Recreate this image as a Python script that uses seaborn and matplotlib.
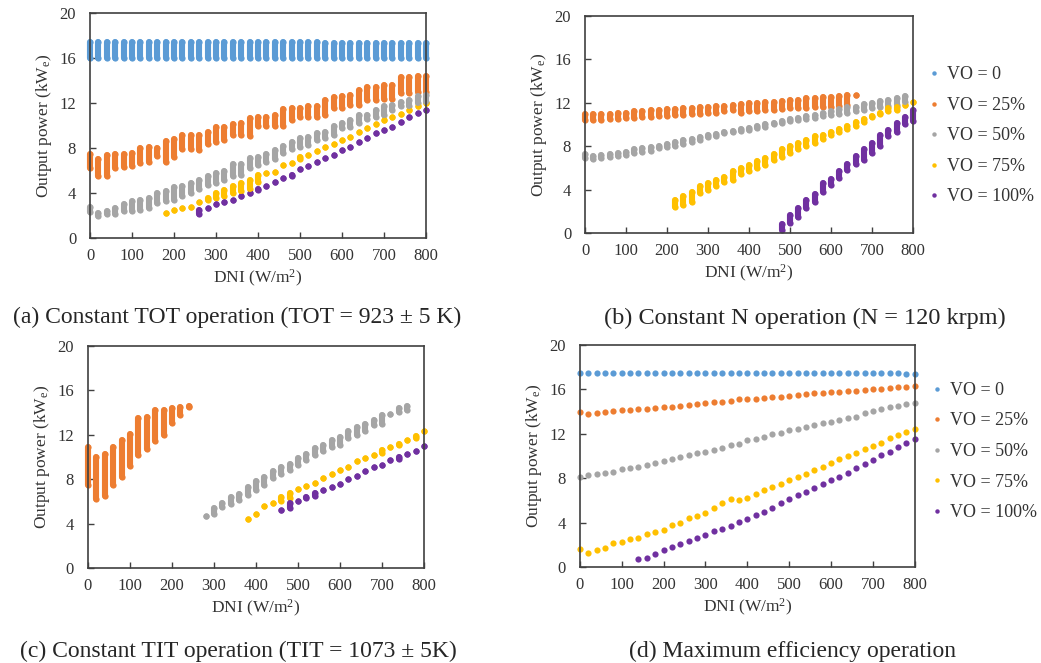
import numpy as np
import matplotlib
matplotlib.use('Agg')
import matplotlib.pyplot as plt
import seaborn as sns
from matplotlib.lines import Line2D

# DNI grid (W/m2), one column of points every 20
DNI = np.arange(0, 801, 20)

LABELS = ['VO = 0', 'VO = 25%', 'VO = 50%', 'VO = 75%', 'VO = 100%']
COLORS = ['#5B9BD5', '#ED7D31', '#A5A5A5', '#FFC000', '#7030A0']

# (a) constant TOT: min / max output power of each DNI column
a_blue_lo = [16.0, 16.0, 16.0, 16.0, 16.0, 16.0, 16.0, 16.0, 16.0, 16.0, 16.0, 16.0, 16.0, 16.0,
             16.0, 16.0, 16.0, 16.0, 16.0, 16.0, 16.0, 16.0, 16.0, 16.0, 16.0, 16.0, 16.0, 16.0,
             16.0, 16.0, 16.0, 16.0, 16.0, 16.0, 16.0, 16.0, 16.0, 16.0, 16.0, 16.0, 16.0]
a_blue_hi = [17.4, 17.4, 17.4, 17.4, 17.4, 17.4, 17.4, 17.4, 17.4, 17.4, 17.4, 17.4, 17.4, 17.4,
             17.4, 17.4, 17.4, 17.4, 17.4, 17.4, 17.4, 17.4, 17.4, 17.4, 17.4, 17.4, 17.4, 17.4,
             17.3, 17.3, 17.3, 17.3, 17.3, 17.3, 17.3, 17.3, 17.3, 17.3, 17.3, 17.3, 17.3]
a_orange_lo = [6.2, 5.5, 5.5, 6.2, 6.3, 6.4, 6.7, 6.8, 7.3, 6.8, 7.2, 7.9, 7.9, 7.8, 8.4, 8.5, 8.7,
               9.2, 9.2, 9.1, 10.0, 10.0, 10.0, 10.0, 10.5, 10.8, 10.8, 10.8, 10.9, 11.6, 11.6,
               11.8, 11.8, 12.3, 12.3, 12.4, 12.4, 12.9, 12.9, 13.0, 13.0]
a_orange_hi = [7.5, 7.0, 7.4, 7.5, 7.5, 7.6, 8.0, 8.1, 8.0, 8.6, 8.8, 9.2, 9.2, 9.2, 9.4, 9.9, 9.9,
               10.1, 10.2, 10.7, 10.8, 10.8, 10.9, 11.5, 11.6, 11.6, 11.7, 11.7, 12.3, 12.5, 12.6,
               12.7, 13.2, 13.4, 13.4, 13.6, 13.6, 14.3, 14.3, 14.4, 14.4]
a_gray_lo = [2.3, 2.0, 2.1, 2.1, 2.4, 2.4, 2.5, 2.7, 3.1, 3.3, 3.4, 3.7, 4.0, 4.4, 4.7, 4.9, 5.2,
             5.5, 5.6, 6.2, 6.5, 6.8, 7.0, 7.6, 7.9, 8.1, 8.3, 8.7, 8.9, 9.2, 9.8, 9.9, 10.2,
             10.6, 10.8, 10.9, 11.4, 11.7, 11.7, 12.0, 12.1]
a_gray_hi = [2.8, 2.2, 2.4, 2.7, 3.0, 3.3, 3.4, 3.6, 4.0, 4.2, 4.5, 4.6, 4.9, 5.2, 5.5, 5.8, 6.0,
             6.6, 6.6, 7.1, 7.2, 7.5, 7.8, 8.2, 8.5, 8.9, 9.0, 9.3, 9.4, 10.0, 10.2, 10.5, 10.9,
             10.9, 11.4, 11.7, 11.8, 12.1, 12.3, 12.6, 12.7]
a_yellow_lo = [2.2, 2.45, 2.7, 2.8, 3.2, 3.4, 3.6, 3.7, 4.0, 4.2, 4.4, 5.0, 5.8, 5.9, 6.5, 6.7,
               7.0, 7.4, 7.7, 8.1, 8.4, 8.7, 9.0, 9.4, 9.8, 10.1, 10.5, 10.8, 11.0, 11.4, 11.7, 12.0]
a_yellow_hi = [2.2, 2.45, 2.7, 2.8, 3.2, 3.6, 4.0, 4.3, 4.6, 4.9, 5.2, 5.6, 5.8, 5.9, 6.5, 6.7,
               7.2, 7.4, 7.7, 8.1, 8.4, 8.7, 9.0, 9.4, 9.8, 10.1, 10.5, 10.8, 11.0, 11.4, 11.7, 12.0]
a_purple_lo = [2.1, 2.7, 3.0, 3.2, 3.4, 3.7, 4.0, 4.3, 4.6, 5.0, 5.3, 5.5, 6.1, 6.4, 6.8, 7.1,
               7.4, 7.8, 8.1, 8.5, 8.9, 9.3, 9.6, 9.9, 10.3, 10.8, 11.1, 11.4]
a_purple_hi = [2.5, 2.7, 3.0, 3.2, 3.4, 3.7, 4.0, 4.4, 4.6, 5.0, 5.3, 5.6, 6.1, 6.4, 6.8, 7.1,
               7.4, 7.8, 8.1, 8.5, 8.9, 9.3, 9.6, 9.9, 10.3, 10.8, 11.1, 11.4]

# (b) constant N
b_orange_lo = [10.4, 10.4, 10.4, 10.5, 10.5, 10.6, 10.6, 10.7, 10.7, 10.8, 10.8, 10.9, 10.9, 11.0,
               11.0, 11.1, 11.1, 11.2, 11.3, 11.1, 11.2, 11.2, 11.3, 11.3, 11.4, 11.5, 11.5, 11.5,
               11.6, 11.6, 11.6, 11.7, 11.8, 12.7]
b_orange_hi = [11.0, 11.0, 11.0, 11.0, 11.1, 11.1, 11.2, 11.2, 11.3, 11.3, 11.4, 11.4, 11.5, 11.5,
               11.6, 11.6, 11.7, 11.7, 11.8, 11.9, 12.0, 12.0, 12.1, 12.1, 12.2, 12.3, 12.3, 12.4,
               12.4, 12.5, 12.5, 12.6, 12.7, 12.7]
b_gray_lo = [6.9, 6.8, 6.9, 7.0, 7.1, 7.2, 7.4, 7.5, 7.6, 7.8, 7.9, 8.0, 8.2, 8.4, 8.6, 8.8, 8.9,
             9.2, 9.3, 9.4, 9.5, 9.7, 9.8, 10.0, 10.1, 10.3, 10.4, 10.5, 10.6, 10.8, 10.9, 11.0,
             11.1, 11.2, 11.3, 11.5, 11.6, 11.7, 11.8, 12.1]
b_gray_hi = [7.3, 7.1, 7.2, 7.3, 7.4, 7.5, 7.7, 7.8, 7.9, 8.0, 8.2, 8.4, 8.6, 8.7, 8.8, 9.0, 9.1,
             9.3, 9.4, 9.6, 9.7, 9.9, 10.0, 10.1, 10.3, 10.5, 10.6, 10.8, 10.9, 11.1, 11.2, 11.4,
             11.6, 11.6, 11.9, 12.0, 12.2, 12.3, 12.4, 12.6]
b_yellow_lo = [2.4, 2.6, 2.9, 3.7, 4.0, 4.3, 4.7, 4.9, 5.4, 5.7, 6.0, 6.3, 6.7, 7.0, 7.4, 7.7,
               8.0, 8.3, 8.7, 9.0, 9.3, 9.6, 9.9, 10.2, 10.7, 11.0, 11.2, 11.3, 11.8, 12.1]
b_yellow_hi = [3.0, 3.4, 3.8, 4.3, 4.6, 4.9, 5.2, 5.7, 6.0, 6.3, 6.6, 6.9, 7.3, 7.7, 8.0, 8.3,
               8.6, 8.9, 9.0, 9.3, 9.6, 9.9, 10.2, 10.5, 10.8, 11.1, 11.5, 11.6, 11.8, 12.1]
b_purple_lo = [0.3, 0.9, 1.5, 2.3, 2.9, 3.8, 4.4, 5.1, 5.8, 6.4, 6.7, 7.4, 8.0, 8.9, 9.3, 10.0, 10.3]
b_purple_hi = [0.8, 1.7, 2.3, 3.0, 3.6, 4.6, 5.0, 5.7, 6.4, 7.1, 7.7, 8.3, 9.0, 9.5, 10.1, 10.7, 11.3]

# (c) constant TIT
c_orange_lo = [7.5, 6.2, 6.5, 7.5, 8.2, 9.2, 10.2, 10.7, 11.4, 12.0, 13.1, 13.8, 14.5]
c_orange_hi = [10.9, 10.0, 10.3, 10.9, 11.5, 12.1, 13.5, 13.6, 14.2, 14.2, 14.4, 14.5, 14.6]
c_gray_lo = [4.7, 4.9, 5.5, 5.8, 6.1, 6.6, 7.0, 7.5, 8.1, 8.5, 8.8, 9.3, 9.7, 10.2, 10.5, 10.9,
             11.1, 11.7, 12.0, 12.3, 12.9, 13.0, 13.9, 14.1, 14.2]
c_gray_hi = [4.7, 5.4, 5.9, 6.4, 6.7, 7.3, 7.8, 8.2, 8.7, 9.1, 9.4, 9.9, 10.3, 10.8, 11.1, 11.5,
             11.8, 12.3, 12.7, 13.0, 13.3, 13.8, 13.9, 14.4, 14.6]
c_yellow_lo = [4.4, 4.9, 5.6, 5.9, 6.0, 6.3, 7.1, 7.4, 7.7, 8.1, 8.5, 8.8, 9.1, 9.6, 9.9, 10.2,
               10.4, 10.9, 11.1, 11.5, 11.7, 12.3]
c_yellow_hi = [4.4, 4.9, 5.6, 5.9, 6.4, 6.8, 7.1, 7.4, 7.7, 8.1, 8.5, 8.8, 9.1, 9.6, 9.9, 10.2,
               10.6, 10.9, 11.2, 11.5, 11.9, 12.3]
c_purple_lo = [5.2, 5.4, 6.0, 6.3, 6.5, 7.0, 7.3, 7.6, 8.0, 8.3, 8.7, 9.1, 9.3, 9.7, 9.8, 10.3, 10.5, 11.0]
c_purple_hi = [5.2, 5.9, 6.0, 6.4, 6.8, 7.0, 7.3, 7.6, 8.0, 8.3, 8.7, 9.1, 9.3, 9.7, 10.0, 10.3, 10.5, 11.0]

# (d) maximum efficiency: one point per DNI
d_blue = [17.45, 17.45, 17.45, 17.45, 17.45, 17.45, 17.45, 17.45, 17.45, 17.45, 17.45, 17.45,
          17.45, 17.45, 17.45, 17.45, 17.45, 17.45, 17.45, 17.45, 17.45, 17.45, 17.45, 17.45,
          17.45, 17.45, 17.45, 17.45, 17.45, 17.45, 17.45, 17.45, 17.45, 17.45, 17.45, 17.45,
          17.45, 17.45, 17.45, 17.4, 17.35]
d_orange = [14.0, 13.8, 13.9, 14.0, 14.05, 14.15, 14.15, 14.2, 14.25, 14.3, 14.4, 14.45, 14.55,
            14.6, 14.65, 14.75, 14.85, 14.9, 15.0, 15.1, 15.1, 15.15, 15.2, 15.3, 15.35, 15.4,
            15.5, 15.55, 15.65, 15.7, 15.75, 15.8, 15.85, 15.9, 15.95, 16.0, 16.05, 16.15, 16.2,
            16.25, 16.3]
d_gray = [8.15, 8.25, 8.35, 8.45, 8.6, 8.8, 8.95, 9.05, 9.2, 9.4, 9.55, 9.75, 9.9, 10.05, 10.25,
          10.35, 10.55, 10.75, 10.95, 11.1, 11.4, 11.55, 11.75, 11.95, 12.1, 12.3, 12.45, 12.6,
          12.8, 12.95, 13.1, 13.25, 13.4, 13.55, 13.9, 14.05, 14.2, 14.4, 14.5, 14.7, 14.75]
d_yellow = [1.65, 1.3, 1.5, 1.7, 2.15, 2.25, 2.5, 2.6, 3.0, 3.15, 3.35, 3.8, 3.95, 4.4, 4.6, 4.85,
            5.3, 5.75, 6.15, 6.0, 6.25, 6.6, 6.95, 7.25, 7.5, 7.8, 8.1, 8.4, 8.75, 9.05, 9.35,
            9.7, 10.0, 10.3, 10.65, 10.9, 11.2, 11.6, 11.9, 12.2, 12.45]
d_purple = [0.7, 0.85, 1.15, 1.5, 1.8, 2.05, 2.35, 2.65, 2.9, 3.2, 3.45, 3.7, 4.05, 4.35, 4.7,
            5.0, 5.35, 5.75, 6.1, 6.45, 6.8, 7.1, 7.45, 7.8, 8.15, 8.5, 8.9, 9.3, 9.65, 10.05,
            10.4, 10.8, 11.15, 11.5]

CAPTIONS = ['(a) Constant TOT operation (TOT = 923 \u00b1 5 K)',
            '(b) Constant N operation (N = 120 krpm)',
            '(c) Constant TIT operation (TIT = 1073 \u00b1 5K)',
            '(d) Maximum efficiency operation']

sns.set_style('ticks')
plt.rcParams['font.family'] = ['Liberation Serif', 'DejaVu Serif']
plt.rcParams['mathtext.fontset'] = 'custom'
plt.rcParams['mathtext.rm'] = 'Liberation Serif'
plt.rcParams['mathtext.it'] = 'Liberation Serif:italic'

DOT = 20        # scatter marker area
BAND = 4.4      # width of a stacked column of dots (pt)
TXT = '#333333'


def draw_bands(ax, x, lo, hi, color):
    # a column of overlapping dots reads as a rounded bar
    ax.vlines(x, lo, hi, colors=color, linewidth=BAND, capstyle='round', clip_on=False)
    sns.scatterplot(x=x, y=lo, ax=ax, color=color, s=DOT, linewidth=0, clip_on=False)
    sns.scatterplot(x=x, y=hi, ax=ax, color=color, s=DOT, linewidth=0, clip_on=False)


def style_axis(ax):
    ax.set_xlim(0, 800)
    ax.set_ylim(0, 20)
    ax.set_xticks(range(0, 801, 100))
    ax.set_yticks(range(0, 21, 4))
    ax.tick_params(direction='in', length=4, width=1, colors='#404040', labelcolor=TXT,
                   labelsize=12, pad=7)
    ax.tick_params(axis='y', pad=10)
    for sp in ax.spines.values():
        sp.set_visible(True)
        sp.set_color('#404040')
        sp.set_linewidth(1.2)
    ax.set_xlabel('DNI (W/m$^2$)', fontsize=12.5, color=TXT, labelpad=3)
    ax.set_ylabel('Output power (kW$_\\mathrm{e}$)', fontsize=12.5, color=TXT, labelpad=4)


fig = plt.figure(figsize=(10.41, 6.63), dpi=100)
ax_a = fig.add_axes([0.0865, 0.641, 0.3228, 0.3394])
ax_b = fig.add_axes([0.562, 0.6486, 0.315, 0.3273])
ax_c = fig.add_axes([0.0845, 0.1433, 0.3228, 0.3348])
ax_d = fig.add_axes([0.557, 0.1448, 0.3218, 0.3348])

# (a)
draw_bands(ax_a, DNI, a_blue_lo, a_blue_hi, COLORS[0])
draw_bands(ax_a, DNI, a_orange_lo, a_orange_hi, COLORS[1])
draw_bands(ax_a, DNI, a_gray_lo, a_gray_hi, COLORS[2])
draw_bands(ax_a, DNI[9:], a_yellow_lo, a_yellow_hi, COLORS[3])
draw_bands(ax_a, DNI[13:], a_purple_lo, a_purple_hi, COLORS[4])

# (b)
draw_bands(ax_b, DNI[:34], b_orange_lo, b_orange_hi, COLORS[1])
draw_bands(ax_b, DNI[:40], b_gray_lo, b_gray_hi, COLORS[2])
draw_bands(ax_b, DNI[11:], b_yellow_lo, b_yellow_hi, COLORS[3])
draw_bands(ax_b, DNI[24:], b_purple_lo, b_purple_hi, COLORS[4])

# (c)
draw_bands(ax_c, DNI[:13], c_orange_lo, c_orange_hi, COLORS[1])
draw_bands(ax_c, DNI[14:39], c_gray_lo, c_gray_hi, COLORS[2])
draw_bands(ax_c, DNI[19:], c_yellow_lo, c_yellow_hi, COLORS[3])
draw_bands(ax_c, DNI[23:], c_purple_lo, c_purple_hi, COLORS[4])

# (d)
for y, x, col in [(d_blue, DNI, COLORS[0]), (d_orange, DNI, COLORS[1]), (d_gray, DNI, COLORS[2]),
                  (d_yellow, DNI, COLORS[3]), (d_purple, DNI[7:], COLORS[4])]:
    sns.scatterplot(x=x, y=y, ax=ax_d, color=col, s=DOT, linewidth=0, clip_on=False)

for ax in (ax_a, ax_b, ax_c, ax_d):
    style_axis(ax)

handles = [Line2D([], [], linestyle='none', marker='o', markersize=3.2, color=c,
                  markeredgewidth=0) for c in COLORS]
for anchor in [(0.892, 0.795), (0.895, 0.319)]:
    fig.legend(handles, LABELS, loc='center left', bbox_to_anchor=anchor, frameon=False,
               fontsize=13, labelspacing=0.75, handlelength=0.6, handletextpad=0.4,
               borderpad=0, borderaxespad=0, labelcolor=TXT)

fig.text(0.228, 0.522, CAPTIONS[0], ha='center', va='center', fontsize=17)
fig.text(0.773, 0.519, CAPTIONS[1], ha='center', va='center', fontsize=17.5)
fig.text(0.229, 0.017, CAPTIONS[2], ha='center', va='center', fontsize=17)
fig.text(0.761, 0.017, CAPTIONS[3], ha='center', va='center', fontsize=17)

fig.savefig('out.png', dpi=100)
